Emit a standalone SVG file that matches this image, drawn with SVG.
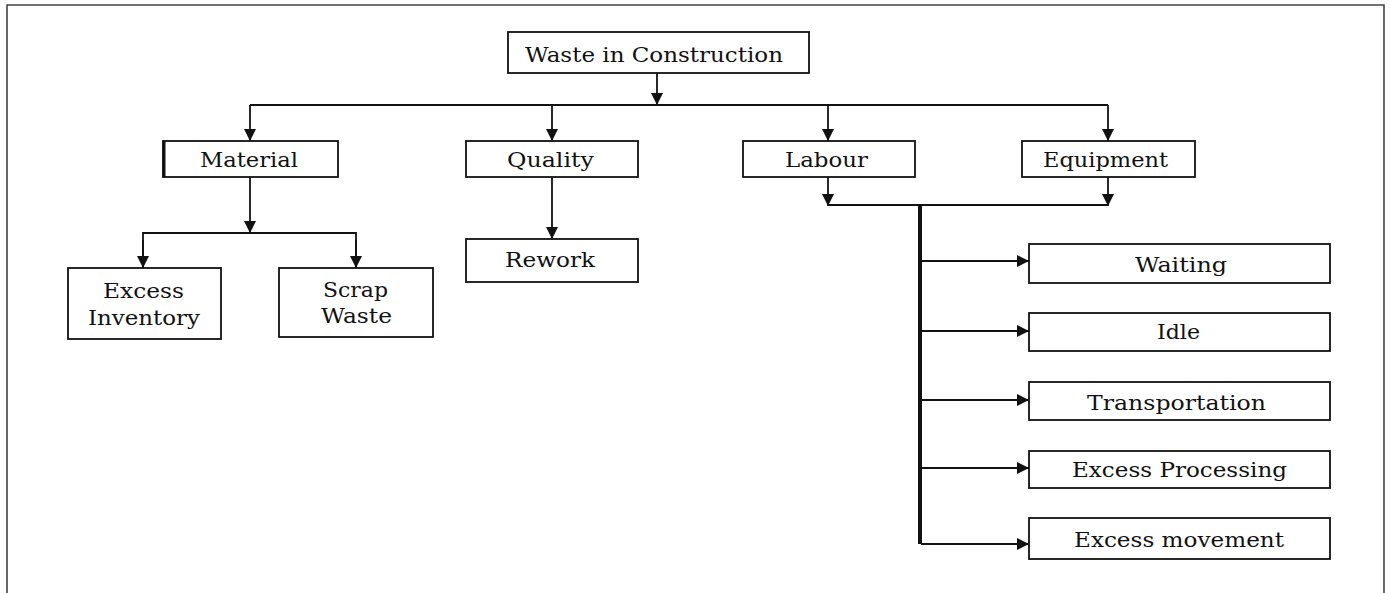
<svg xmlns="http://www.w3.org/2000/svg" width="1390" height="593" viewBox="0 0 1390 593">
<style>
.box{fill:#fff;stroke:#111;stroke-width:1.8}
.ln{fill:none;stroke:#111;stroke-width:1.8}
.t{font-family:"DejaVu Serif","Liberation Serif",serif;font-size:20px;fill:#111;text-anchor:middle}
</style>
<defs>
<marker id="ah" markerUnits="userSpaceOnUse" markerWidth="13" markerHeight="13" refX="12" refY="6" orient="auto">
<path d="M0,0 L12,6 L0,12 Z" fill="#111"/>
</marker>
</defs>
<rect x="0" y="0" width="1390" height="593" fill="#fff"/>
<path d="M7,600 L7,5 L1384,5 L1384,600" fill="none" stroke="#444" stroke-width="1.6"/>
<g id="connectors">
<path class="ln" d="M657,73 L657,105" marker-end="url(#ah)"/>
<path class="ln" d="M250,105 L1108,105"/>
<path class="ln" d="M250,105 L250,141" marker-end="url(#ah)"/>
<path class="ln" d="M552,105 L552,141" marker-end="url(#ah)"/>
<path class="ln" d="M828,105 L828,141" marker-end="url(#ah)"/>
<path class="ln" d="M1108,105 L1108,141" marker-end="url(#ah)"/>
<path class="ln" d="M250,177 L250,233" marker-end="url(#ah)"/>
<path class="ln" d="M143,268 L143,233 L356,233 L356,268"/>
<path class="ln" d="M143,240 L143,268" marker-end="url(#ah)"/>
<path class="ln" d="M356,240 L356,268" marker-end="url(#ah)"/>
<path class="ln" d="M552,177 L552,239" marker-end="url(#ah)"/>
<path class="ln" d="M828,177 L828,206" marker-end="url(#ah)"/>
<path class="ln" d="M1108,177 L1108,206" marker-end="url(#ah)"/>
<path class="ln" d="M828,205 L1108,205"/>
<path fill="none" stroke="#111" stroke-width="4" d="M920,205 L920,544"/>
<path class="ln" d="M921,261 L1029,261" marker-end="url(#ah)"/>
<path class="ln" d="M921,331 L1029,331" marker-end="url(#ah)"/>
<path class="ln" d="M921,400 L1029,400" marker-end="url(#ah)"/>
<path class="ln" d="M921,468 L1029,468" marker-end="url(#ah)"/>
<path class="ln" d="M921,544 L1029,544" marker-end="url(#ah)"/>
</g>
<g id="waste-in-construction">
<rect class="box" x="508" y="32" width="301" height="41"/>
<text class="t" x="654" y="62" textLength="258" lengthAdjust="spacingAndGlyphs">Waste in Construction</text>
</g>
<g id="material">
<rect class="box" x="163" y="141" width="175" height="36"/>
<path d="M164,141 L164,177" stroke="#111" stroke-width="3"/>
<text class="t" x="249" y="167" textLength="98" lengthAdjust="spacingAndGlyphs">Material</text>
</g>
<g id="quality">
<rect class="box" x="466" y="141" width="172" height="36"/>
<text class="t" x="550.5" y="167" textLength="87" lengthAdjust="spacingAndGlyphs">Quality</text>
</g>
<g id="labour">
<rect class="box" x="743" y="141" width="172" height="36"/>
<text class="t" x="826.5" y="167" textLength="83" lengthAdjust="spacingAndGlyphs">Labour</text>
</g>
<g id="equipment">
<rect class="box" x="1022" y="141" width="173" height="36"/>
<text class="t" x="1105.5" y="167" textLength="125" lengthAdjust="spacingAndGlyphs">Equipment</text>
</g>
<g id="excess-inventory">
<rect class="box" x="68" y="268" width="153" height="71"/>
<text class="t" x="143.5" y="298" textLength="81" lengthAdjust="spacingAndGlyphs">Excess</text>
<text class="t" x="144" y="325" textLength="112" lengthAdjust="spacingAndGlyphs">Inventory</text>
</g>
<g id="scrap-waste">
<rect class="box" x="279" y="268" width="154" height="69"/>
<text class="t" x="355.5" y="297" textLength="65" lengthAdjust="spacingAndGlyphs">Scrap</text>
<text class="t" x="356.5" y="323" textLength="71" lengthAdjust="spacingAndGlyphs">Waste</text>
</g>
<g id="rework">
<rect class="box" x="466" y="239" width="172" height="43"/>
<text class="t" x="550" y="267" textLength="90" lengthAdjust="spacingAndGlyphs">Rework</text>
</g>
<g id="waiting">
<rect class="box" x="1029" y="244" width="301" height="39"/>
<text class="t" x="1181" y="272" textLength="92" lengthAdjust="spacingAndGlyphs">Waiting</text>
</g>
<g id="idle">
<rect class="box" x="1029" y="313" width="301" height="38"/>
<text class="t" x="1178.5" y="339" textLength="43" lengthAdjust="spacingAndGlyphs">Idle</text>
</g>
<g id="transportation">
<rect class="box" x="1029" y="382" width="301" height="38"/>
<text class="t" x="1176.5" y="410" textLength="179" lengthAdjust="spacingAndGlyphs">Transportation</text>
</g>
<g id="excess-processing">
<rect class="box" x="1029" y="451" width="301" height="37"/>
<text class="t" x="1179.5" y="477" textLength="215" lengthAdjust="spacingAndGlyphs">Excess Processing</text>
</g>
<g id="excess-movement">
<rect class="box" x="1029" y="518" width="301" height="41"/>
<text class="t" x="1179" y="547" textLength="210" lengthAdjust="spacingAndGlyphs">Excess movement</text>
</g>
</svg>
